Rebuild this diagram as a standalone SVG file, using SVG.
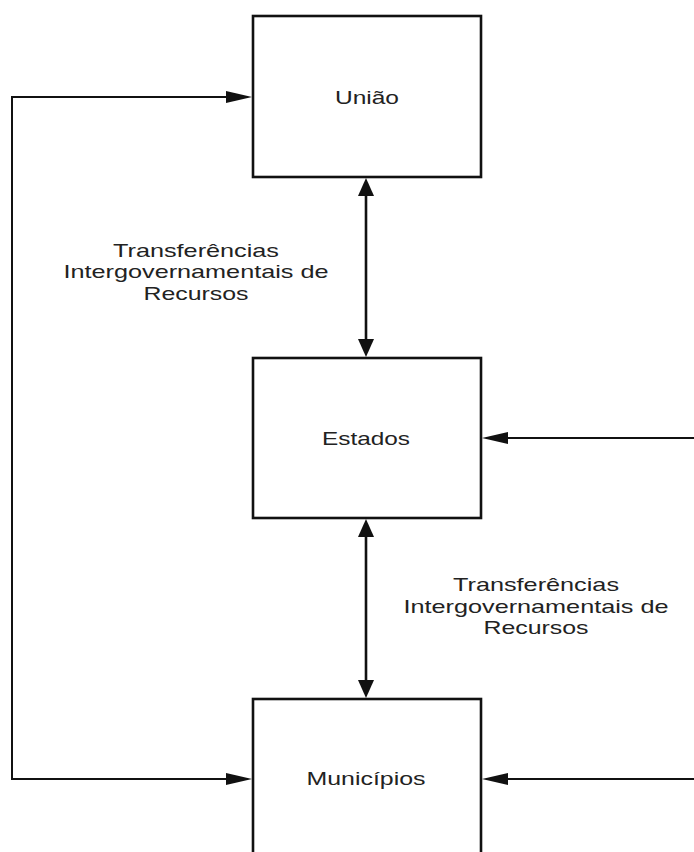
<svg xmlns="http://www.w3.org/2000/svg" width="694" height="852" viewBox="0 0 694 852">
<style>
.box{fill:#fff;stroke:#111;stroke-width:2.6}
.ln{fill:none;stroke:#111;stroke-width:2}
.vl{fill:none;stroke:#111;stroke-width:2.6}
.hd{fill:#111;stroke:none}
text{font-family:"Liberation Sans",Arial,sans-serif;font-size:18.5px;fill:#222;text-anchor:middle}
</style>
<rect width="694" height="852" fill="#fff"/>
<g id="uniao"><rect class="box" x="253" y="16" width="228" height="161"/><text x="367" y="104" textLength="64" lengthAdjust="spacingAndGlyphs">União</text></g>
<g id="estados"><rect class="box" x="253" y="358" width="228" height="160"/><text x="366" y="445" textLength="88" lengthAdjust="spacingAndGlyphs">Estados</text></g>
<g id="municipios"><rect class="box" x="253" y="699" width="228" height="170"/><text x="366" y="785" textLength="119" lengthAdjust="spacingAndGlyphs">Municípios</text></g>
<g id="label1">
<text x="196" y="257" textLength="166" lengthAdjust="spacingAndGlyphs">Transferências</text>
<text x="196" y="278" textLength="265" lengthAdjust="spacingAndGlyphs">Intergovernamentais de</text>
<text x="196" y="300" textLength="105" lengthAdjust="spacingAndGlyphs">Recursos</text>
</g>
<g id="label2">
<text x="536" y="591" textLength="166" lengthAdjust="spacingAndGlyphs">Transferências</text>
<text x="536" y="613" textLength="265" lengthAdjust="spacingAndGlyphs">Intergovernamentais de</text>
<text x="536" y="634" textLength="105" lengthAdjust="spacingAndGlyphs">Recursos</text>
</g>
<g id="connectors">
<path class="vl" d="M366 195 V340"/>
<polygon class="hd" points="366,178 358,196 374,196"/>
<polygon class="hd" points="366,357 358,339 374,339"/>
<path class="vl" d="M366 536 V681"/>
<polygon class="hd" points="366,519 358,537 374,537"/>
<polygon class="hd" points="366,698 358,680 374,680"/>
<path class="ln" d="M228 97 H12 V779 H228"/>
<polygon class="hd" points="252,97 226,91 226,103"/>
<polygon class="hd" points="252,779 226,773 226,785"/>
<path class="ln" d="M694 438 H506"/>
<polygon class="hd" points="482,438 508,432 508,444"/>
<path class="ln" d="M694 779 H506"/>
<polygon class="hd" points="482,779 508,773 508,785"/>
</g>
</svg>
